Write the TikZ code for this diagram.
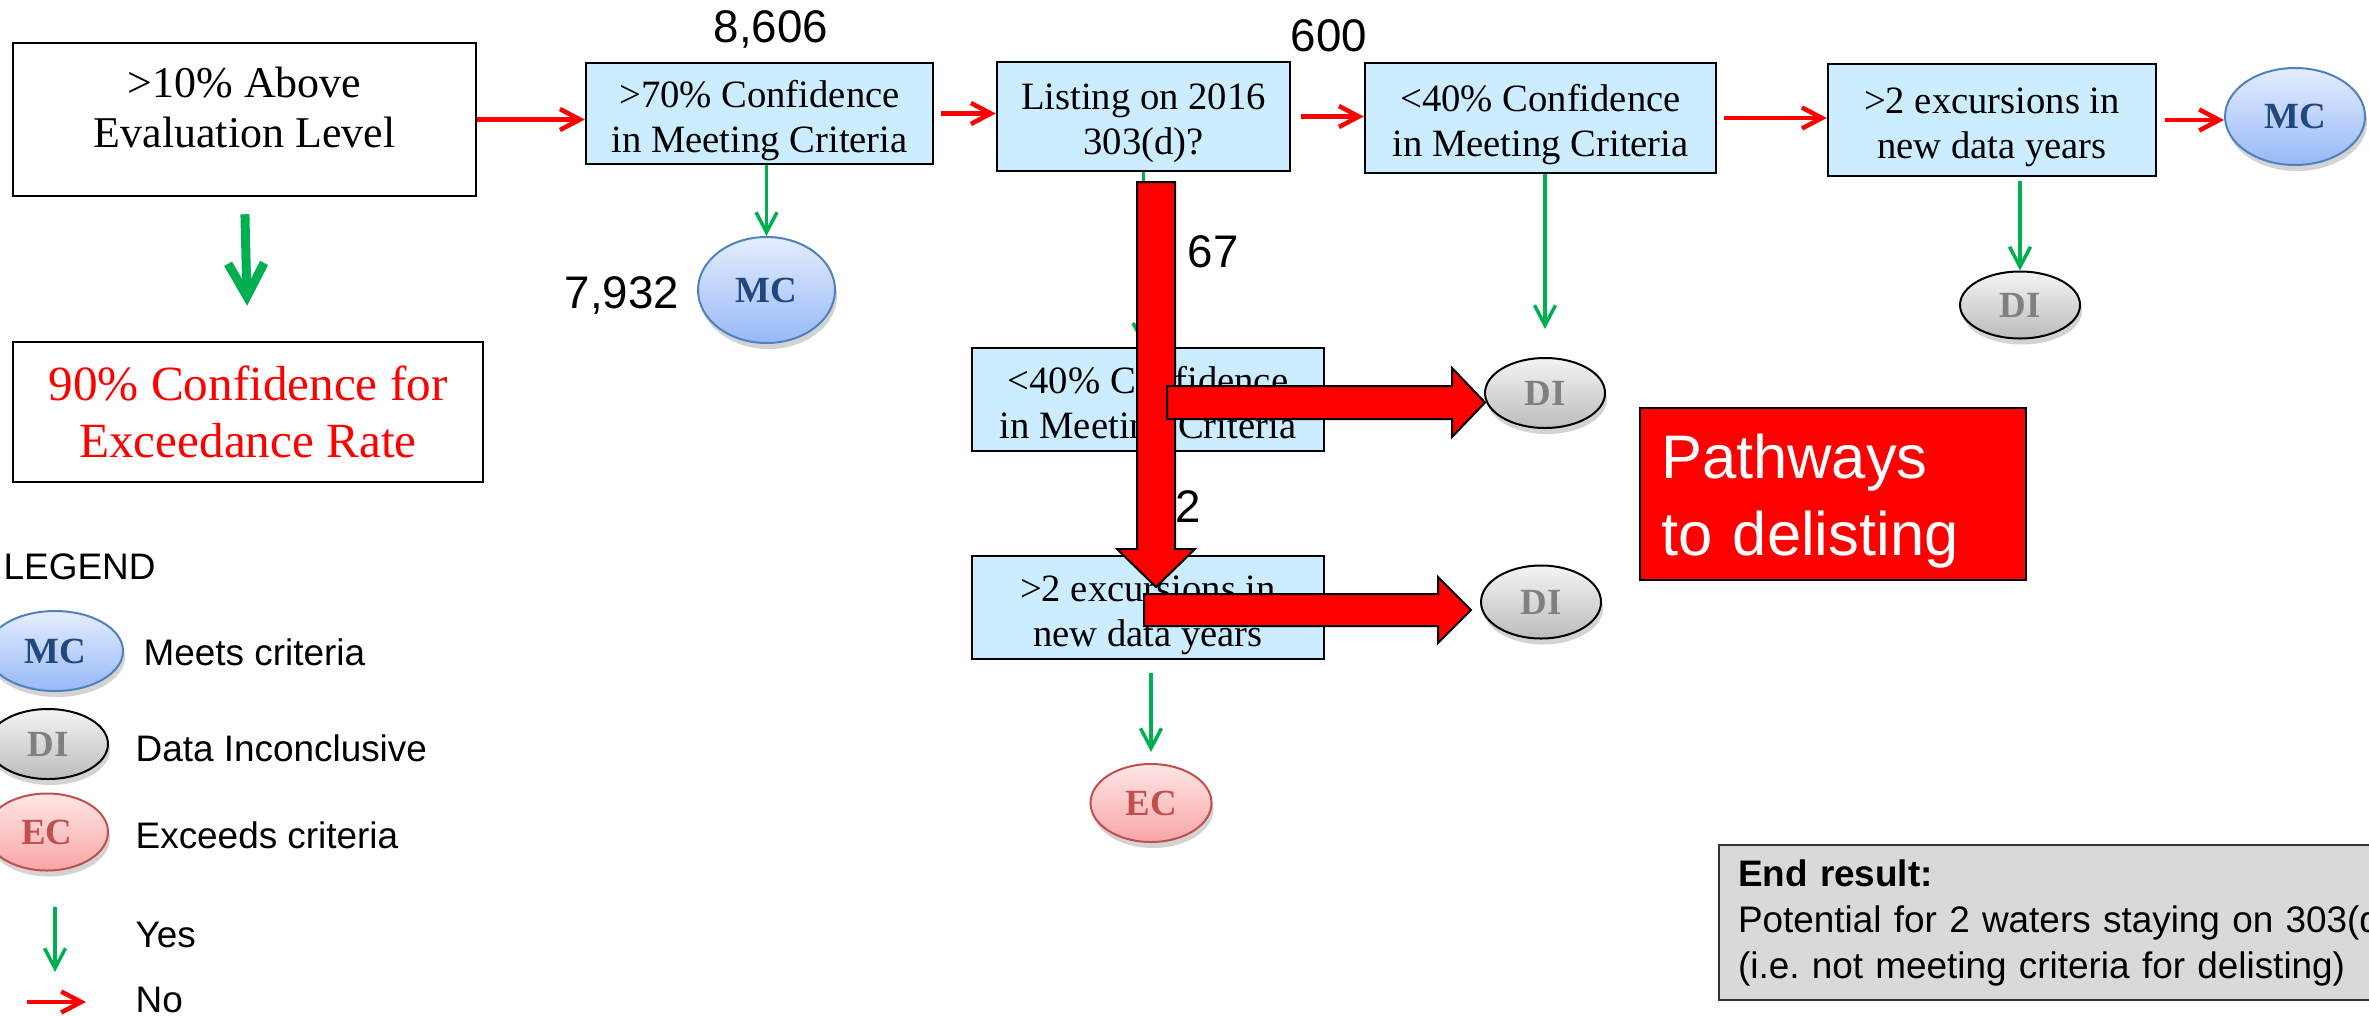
\documentclass[tikz,border=0pt]{standalone}
\usepackage{fontspec}
\setmainfont{Liberation Serif}
\setsansfont{Liberation Sans}
\usepackage{xcolor}
\usepackage{tikz}
\usetikzlibrary{arrows.meta}
\usetikzlibrary{backgrounds,shadows}
\usetikzlibrary{shapes,shapes.geometric}
\pgfdeclarelayer{edgelayer}
\pgfdeclarelayer{nodelayer}
\pgfsetlayers{background,edgelayer,nodelayer,main}
\definecolor{boxblue}{RGB}{204,236,255}
\definecolor{mcline}{RGB}{79,129,189}
\definecolor{mctext}{RGB}{31,73,125}
\definecolor{mctop}{RGB}{230,237,255}
\definecolor{mcbot}{RGB}{150,185,247}
\definecolor{ditop}{RGB}{244,244,244}
\definecolor{dibot}{RGB}{188,188,188}
\definecolor{ditext}{RGB}{128,128,128}
\definecolor{ectop}{RGB}{255,230,230}
\definecolor{ecbot}{RGB}{248,166,166}
\definecolor{ecline}{RGB}{192,80,77}
\definecolor{yesgreen}{RGB}{0,176,80}
\definecolor{endgray}{RGB}{217,217,217}
\newcommand{\padtop}[1]{\mbox{}\\[#1]}
\tikzstyle{none}=[inner sep=0mm]
\tikzstyle{wb}=[draw=black,line width=0.25mm,fill=white,align=center,inner sep=0mm,font=\fontsize{12.5}{14.2}\selectfont]
\tikzstyle{bb}=[wb,fill=boxblue,font=\fontsize{11}{12.8}\selectfont]
\tikzstyle{oval}=[shape=ellipse,inner sep=0mm,line width=0.2mm,font=\fontsize{10.5}{12}\selectfont\bfseries,drop shadow={shadow xshift=0.2mm,shadow yshift=-0.6mm,opacity=0.35}]
\tikzstyle{mcn}=[oval,draw=mcline,top color=mctop,bottom color=mcbot,text=mctext]
\tikzstyle{din}=[oval,draw=black,top color=ditop,bottom color=dibot,text=ditext]
\tikzstyle{ecn}=[oval,draw=ecline,top color=ectop,bottom color=ecbot,text=ecline]
\tikzstyle{lbl}=[inner sep=0mm,font=\sffamily\fontsize{13}{15}\selectfont]
\tikzstyle{legtxt}=[inner sep=0mm,anchor=west,font=\sffamily\fontsize{10.5}{13}\selectfont]
\tikzset{
	noarr/.style={draw=red,line width=0.45mm,-{Straight Barb[length=2mm,width=2.1mm]}},
	yesarr/.style={draw=yesgreen,line width=0.35mm,-{Straight Barb[length=2mm,width=2.1mm]}},
	bigyes/.style={draw=yesgreen,line width=0.9mm,-{Straight Barb[length=3.3mm,width=3.6mm]}},
	fat/.style={draw=black,line width=0.2mm,fill=red,line join=miter}
}
\begin{document}
\begin{tikzpicture}[x=0.1mm, y=-0.1mm]
	\useasboundingbox (0, 0) rectangle (2369, 1015);
	\begin{pgfonlayer}{nodelayer}
	\begin{scope}
		\clip (0, 0) rectangle (2369, 1015);
		% main row
		\node [style=wb, minimum width=46.3mm, minimum height=15.3mm] (eval) at (244.5, 119.5) {>10\% Above\\Evaluation Level\\[-2.5mm]\mbox{}};
		\node [style=wb, text=red, minimum width=47mm, minimum height=14mm, font=\fontsize{14}{16.2}\selectfont] (exc) at (248, 412) {90\% Confidence for\\Exceedance Rate};
		\node [style=bb, minimum width=34.7mm, minimum height=10.1mm] (conf70) at (759.5, 113.5) {\padtop{-0.45mm}>70\% Confidence\\in Meeting Criteria};
		\node [style=bb, minimum width=29.3mm, minimum height=10.9mm] (list) at (1143.5, 116.5) {\padtop{-0.6mm}Listing on 2016\\303(d)?};
		\node [style=bb, minimum width=35.1mm, minimum height=11mm] (conf40) at (1540.5, 118) {\padtop{-0.45mm}<40\% Confidence\\in Meeting Criteria};
		\node [style=bb, minimum width=32.8mm, minimum height=11.2mm] (exc2) at (1992, 120) {\padtop{-0.45mm}>2 excursions in\\new data years};
		\node [style=mcn, minimum width=14mm, minimum height=9.7mm] (mcR) at (2295, 116.5) {MC};
		\node [style=mcn, minimum width=13.7mm, minimum height=10.6mm] (mcA) at (766.5, 290) {MC};
		\node [style=din, minimum width=12mm, minimum height=7mm] (diA) at (1545, 393) {DI};
		\node [style=din, minimum width=12mm, minimum height=6.7mm] (diB) at (2020, 305) {DI};
		% listed branch
		\node [style=bb, minimum width=35.2mm, minimum height=10.3mm] (lconf40) at (1148, 399.5) {\padtop{-0.45mm}<40\% Confidence\\in Meeting Criteria};
		\node [style=bb, minimum width=35.2mm, minimum height=10.3mm] (lexc2) at (1148, 607.5) {\padtop{-0.45mm}>2 excursions in\\new data years};
		\node [style=din, minimum width=12mm, minimum height=7.3mm] (diC) at (1541, 602) {DI};
		\node [style=ecn, minimum width=12.1mm, minimum height=7.8mm] (ec) at (1151, 803) {EC};
		% counts
		\node [style=lbl] (n8606) at (771, 29) {8,606};
		\node [style=lbl] (n7932) at (622, 295) {7,932};
		\node [style=lbl] (n600) at (1329, 36) {600};
		\node [style=lbl] (n67) at (1213, 252) {67};
		\node [style=lbl] (n2) at (1188, 507) {2};
		% notes
		\node [draw=black, line width=0.2mm, fill=red, text=white, align=left, inner xsep=2.1mm, inner ysep=0mm, text width=34.4mm, minimum height=17.2mm, font=\sffamily\fontsize{17.5}{22}\selectfont] (path) at (1833, 494) {\padtop{-1.9mm}Pathways\\to delisting};
		\node [draw=black!80, line width=0.2mm, fill=endgray, anchor=north west, align=left, inner xsep=1.9mm, inner ysep=0mm, text width=66.4mm, minimum height=15.5mm, font=\sffamily\fontsize{10.5}{13.1}\selectfont] (endres) at (1718, 844) {\textbf{End result:}\\Potential for 2 waters staying on 303(d)\\(i.e.\ not meeting criteria for delisting)};
		% legend
		\node [style=legtxt] (leg) at (3, 567) {LEGEND};
		\node [style=mcn, minimum width=13.6mm, minimum height=8mm] (lmc) at (55, 651) {MC};
		\node [style=din, minimum width=12mm, minimum height=7mm] (ldi) at (48, 744) {DI};
		\node [style=ecn, minimum width=12.2mm, minimum height=7.7mm] (lec) at (47, 832) {EC};
		\node [style=legtxt] (tmc) at (143, 652) {Meets criteria};
		\node [style=legtxt] (tdi) at (135, 748) {Data Inconclusive};
		\node [style=legtxt] (tec) at (135, 835) {Exceeds criteria};
		\node [style=legtxt] (tyes) at (135, 935) {Yes};
		\node [style=legtxt] (tno) at (135, 1000) {No};
		\coordinate (yes1) at (55, 907);
		\coordinate (yes2) at (55, 972);
		\coordinate (no1) at (27, 1002);
		\coordinate (no2) at (86, 1002);
	\end{scope}
	\end{pgfonlayer}
	\begin{pgfonlayer}{edgelayer}
		\draw [noarr] (eval.east) -- (eval.east -| conf70.west);
		\draw [noarr, shorten <=0.7mm] (conf70.east) -- (conf70.east -| list.west);
		\draw [noarr, shorten <=1mm] (list.east) -- (list.east -| conf40.west);
		\draw [noarr, shorten <=0.7mm] (conf40.east) -- (conf40.east -| exc2.west);
		\draw [noarr, shorten <=0.8mm] (exc2.east) -- (exc2.east -| mcR.west);
		\draw [bigyes, shorten <=1.7mm, shorten >=3.5mm] (eval.south) -- (exc.north);
		\draw [yesarr] (mcA |- conf70.south) -- (mcA.north);
		\draw [yesarr] (list.south) -- (list.south |- lconf40.north);
		\draw [yesarr, shorten >=2.8mm] (diA |- conf40.south) -- (diA.north);
		\draw [yesarr, shorten <=0.4mm] (diB |- exc2.south) -- (diB.north);
		\draw [yesarr] (lconf40.south) -- (lexc2.north);
		\draw [yesarr, shorten <=1.3mm, shorten >=1.1mm] (ec |- lexc2.south) -- (ec.north);
		\draw [yesarr] (yes1) -- (yes2);
		\draw [noarr] (no1) -- (no2);
	\end{pgfonlayer}
	% pathways to delisting
	\coordinate (vtip) at (1156, 587);
	\coordinate (h1tip) at (1485, 402.5);
	\coordinate (h2tip) at (1471, 610);
	\draw [fat] (vtip) -- ++(-39, -38) -- ++(20, 0) -- ++(0, -367) -- ++(38, 0) -- ++(0, 367) -- ++(20, 0) -- cycle;
	\draw [fat] (h1tip) -- ++(-33, -34.5) -- ++(0, 18) -- ++(-285, 0) -- ++(0, 33) -- ++(285, 0) -- ++(0, 18) -- cycle;
	\draw [fat] (h2tip) -- ++(-33, -33) -- ++(0, 17) -- ++(-294, 0) -- ++(0, 32) -- ++(294, 0) -- ++(0, 17) -- cycle;
\end{tikzpicture}
\end{document}
